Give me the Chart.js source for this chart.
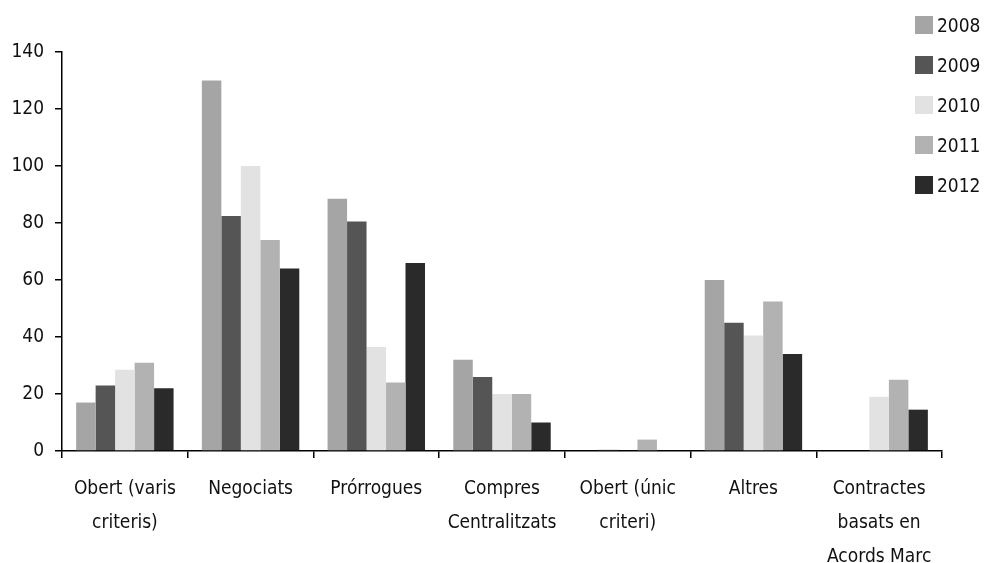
<!DOCTYPE html>
<html>
<head>
<meta charset="utf-8">
<script src="https://cdn.jsdelivr.net/npm/chart.js@4/dist/chart.umd.min.js"></script>
<style>
  body { margin: 0; background: #fff; }
  #wrap { position: relative; width: 985px; height: 563px; }
  #legend { position: absolute; left: 915px; top: 5px; font-family: "DejaVu Sans Condensed", sans-serif; font-size: 19px; color: #111; }
  #legend div { height: 40px; display: flex; align-items: center; }
  #legend span.box { width: 18px; height: 18px; display: inline-block; margin-right: 4px; }
</style>
</head>
<body>
<div id="wrap">
  <canvas id="chart" width="985" height="563"></canvas>
  <div id="legend"></div>
</div>
<script>
const categories = [
    ["Obert (varis", "criteris)"],
    ["Negociats"],
    ["Prórrogues"],
    ["Compres", "Centralitzats"],
    ["Obert (únic", "criteri)"],
    ["Altres"],
    ["Contractes", "basats en", "Acords Marc"],
];
const years = ["2008", "2009", "2010", "2011", "2012"];
const colors = ["#a5a5a5", "#555555", "#e2e2e2", "#b2b2b2", "#2a2a2a"];

const v2008 = [17, 130, 88.5, 32, 0, 60, 0];
const v2009 = [23, 82.5, 80.5, 26, 0.4, 45, 0];
const v2010 = [28.5, 100, 36.5, 20, 0, 40.5, 19];
const v2011 = [31, 74, 24, 20, 4, 52.5, 25];
const v2012 = [22, 64, 66, 10, 0, 34, 14.5];
const series = [v2008, v2009, v2010, v2011, v2012];

const yTicks = [0, 20, 40, 60, 80, 100, 120, 140];

const font = { family: "'DejaVu Sans Condensed', sans-serif", size: 19 };

let ctx = document.getElementById("chart").getContext("2d");
let chart = new Chart(ctx, {
    type: "bar",
    data: {
        labels: categories,
        datasets: years.map((y, i) => ({
            label: y,
            data: series[i],
            backgroundColor: colors[i],
            borderWidth: 0,
            barPercentage: 1,
            categoryPercentage: 0.775,
        })),
    },
    options: {
        responsive: false,
        animation: false,
        layout: { padding: { top: 52, right: 43, left: 0, bottom: 0 } },
        plugins: {
            legend: { display: false },
            tooltip: { enabled: false },
        },
        scales: {
            x: {
                grid: { drawOnChartArea: false, tickLength: 7, color: "#000", lineWidth: 1.5, offset: true },
                border: { color: "#000", width: 1.5 },
                ticks: { color: "#111", font: { ...font, lineHeight: 1.8 }, padding: 14, maxRotation: 0, autoSkip: false },
                afterFit: (scale) => { scale.height = 112; },
            },
            y: {
                min: 0,
                max: 140,
                afterBuildTicks: (scale) => { scale.ticks = yTicks.map(v => ({ value: v })); },
                grid: { drawOnChartArea: false, tickLength: 7, color: "#000", lineWidth: 1.5 },
                border: { color: "#000", width: 1.5 },
                ticks: { color: "#111", font: font, padding: 11 },
                afterFit: (scale) => { scale.width = 62; },
            },
        },
    },
});

// legend as html
const legendDiv = document.getElementById("legend");
years.forEach((y, i) => {
    legendDiv.innerHTML += `<div><span class="box" style="background:${colors[i]}"></span>${y}</div>`;
});
</script>
</body>
</html>
